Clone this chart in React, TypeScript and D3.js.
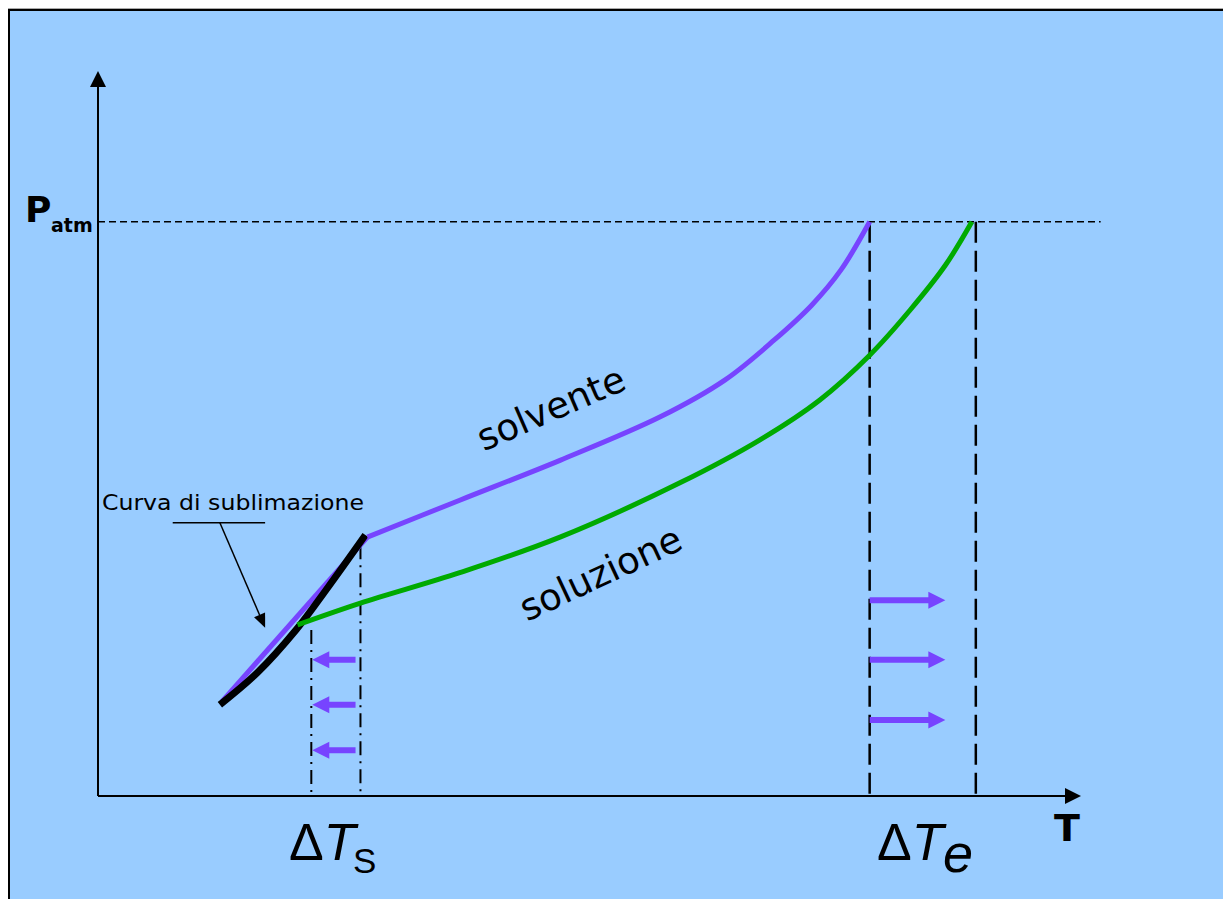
import React from "react";
import * as d3 from "d3";

// Diagramma di fase: tensione di vapore di solvente e soluzione (T, P)
const solventSolid: [number, number][] = [
  [12.6, 13.0],
  [27.4, 35.7],
];
const solventLiquid: [number, number][] = [
  [27.4, 35.7],
  [36.8, 40.8],
  [47.0, 46.3],
  [57.2, 52.3],
  [63.8, 57.4],
  [68.8, 62.9],
  [72.6, 67.7],
  [75.6, 72.6],
  [78.5, 79.2],
];
const solution: [number, number][] = [
  [20.3, 23.6],
  [26.7, 26.6],
  [36.8, 30.8],
  [47.0, 35.7],
  [59.2, 43.2],
  [67.3, 49.1],
  [73.4, 54.6],
  [78.5, 60.8],
  [82.6, 67.0],
  [86.2, 73.2],
  [88.9, 79.2],
];
const sublimation: [number, number][] = [
  [12.4, 12.6],
  [16.2, 17.0],
  [20.2, 23.0],
  [23.4, 28.8],
  [27.2, 36.0],
];

const P_ATM = 79.2;
const freezeSolution = 21.7;
const freezeSolvent = 26.7;
const freezeSolutionTopP = 22.9;
const freezeSolventTopP = 34.6;
const boilSolvent = 78.5;
const boilSolution = 89.3;
const leftArrowP = [18.8, 12.6, 6.3];
const rightArrowP = [27.0, 18.8, 10.5];

const W = 1223;
const H = 899;
const x = d3.scaleLinear().domain([0, 100]).range([98, 1081]);
const y = d3.scaleLinear().domain([0, 100]).range([796, 71]);

const smooth = d3
  .line<[number, number]>()
  .x((d) => x(d[0]))
  .y((d) => y(d[1]))
  .curve(d3.curveCatmullRom.alpha(0.5));
const straight = d3
  .line<[number, number]>()
  .x((d) => x(d[0]))
  .y((d) => y(d[1]));

const PURPLE = "#7744FF";
const GREEN = "#00AA00";
const BG = "#99CCFF";
const COMIC = "'Comic Sans MS', 'DejaVu Sans', sans-serif";
const ARIAL = "'Liberation Sans', Arial, sans-serif";

// block arrow: shaft 6px thick, head 17px long and 17px wide
function blockArrow(x0: number, x1: number, yc: number) {
  const dir = Math.sign(x1 - x0);
  const hb = x1 - dir * 17;
  return [
    [x0, yc - 3],
    [hb, yc - 3],
    [hb, yc - 8.5],
    [x1, yc],
    [hb, yc + 8.5],
    [hb, yc + 3],
    [x0, yc + 3],
  ]
    .map((p) => p.join(","))
    .join(" ");
}

export default function App() {
  const annTop = y(37.7);
  const annStart = x(12.4);
  const annTipX = x(17.0);
  const annTipY = y(23.2);
  const ang = Math.atan2(annTipY - annTop, annTipX - annStart);
  const hl = 14;
  const hw = 6;
  const bx = annTipX - hl * Math.cos(ang);
  const by = annTipY - hl * Math.sin(ang);
  const head = [
    [annTipX, annTipY],
    [bx + hw * Math.sin(ang), by - hw * Math.cos(ang)],
    [bx - hw * Math.sin(ang), by + hw * Math.cos(ang)],
  ]
    .map((p) => p.join(","))
    .join(" ");

  return (
    <svg
      width={W}
      height={H}
      style={{ position: "absolute", left: 0, top: 0, display: "block" }}
    >
      <rect x={0} y={0} width={W} height={H} fill="#ffffff" />
      <rect x={8} y={8} width={W - 8} height={H - 8} fill={BG} />
      <line x1={8} y1={8.5} x2={W} y2={8.5} stroke="#aaaaaa" strokeWidth={1} />
      <line x1={8} y1={10} x2={W} y2={10} stroke="#000" strokeWidth={2} />
      <line x1={9} y1={9} x2={9} y2={H} stroke="#000" strokeWidth={2} />

      {/* axes */}
      <line x1={x(0)} y1={y(0)} x2={x(0)} y2={y(98)} stroke="#000" strokeWidth={2} />
      <polygon
        points={`${x(0)},${y(100)} ${x(0) - 8},${y(100) + 16} ${x(0) + 8},${y(100) + 16}`}
        fill="#000"
      />
      <line x1={x(0)} y1={y(0)} x2={x(98.5)} y2={y(0)} stroke="#000" strokeWidth={2} />
      <polygon
        points={`${x(100)},${y(0)} ${x(100) - 16},${y(0) - 8} ${x(100) - 16},${y(0) + 8}`}
        fill="#000"
      />

      {/* P atm reference */}
      <line
        x1={x(0)}
        y1={y(P_ATM)}
        x2={x(102)}
        y2={y(P_ATM)}
        stroke="#000"
        strokeWidth={1.5}
        strokeDasharray="7,4"
      />
      <text x={25} y={222} fontFamily={COMIC} fontWeight="bold" fontSize={36} fill="#000">
        P
      </text>
      <text x={51} y={232} fontFamily={COMIC} fontWeight="bold" fontSize={19} fill="#000">
        atm
      </text>

      {/* boiling lines */}
      {[boilSolvent, boilSolution].map((t) => (
        <line
          key={"b" + t}
          x1={x(t)}
          y1={y(P_ATM)}
          x2={x(t)}
          y2={y(0)}
          stroke="#000"
          strokeWidth={2.5}
          strokeDasharray="21,8"
        />
      ))}

      {/* freezing lines */}
      {[
        [freezeSolution, freezeSolutionTopP],
        [freezeSolvent, freezeSolventTopP],
      ].map(([t, p]) => (
        <line
          key={"f" + t}
          x1={x(t)}
          y1={y(p)}
          x2={x(t)}
          y2={y(0)}
          stroke="#000"
          strokeWidth={2}
          strokeDasharray="14,6,2,6"
        />
      ))}

      {/* curves */}
      <path d={straight(solventSolid) || ""} fill="none" stroke={PURPLE} strokeWidth={5} />
      <path d={smooth(sublimation) || ""} fill="none" stroke="#000" strokeWidth={7} />
      <path d={smooth(solventLiquid) || ""} fill="none" stroke={PURPLE} strokeWidth={5} />
      <path d={smooth(solution) || ""} fill="none" stroke={GREEN} strokeWidth={5} />

      {/* shift arrows */}
      {leftArrowP.map((p) => (
        <polygon
          key={"l" + p}
          points={blockArrow(x(26.2), x(21.8), y(p))}
          fill={PURPLE}
        />
      ))}
      {rightArrowP.map((p) => (
        <polygon
          key={"r" + p}
          points={blockArrow(x(boilSolvent), x(86.2), y(p))}
          fill={PURPLE}
        />
      ))}

      {/* sublimation annotation */}
      <text
        x={x(0.4)}
        y={y(39.4)}
        fontFamily={COMIC}
        fontSize={21}
        fill="#000"
        textLength={262}
        lengthAdjust="spacingAndGlyphs"
      >
        Curva di sublimazione
      </text>
      <line x1={x(7.6)} y1={annTop} x2={x(17.0)} y2={annTop} stroke="#000" strokeWidth={1.5} />
      <line x1={annStart} y1={annTop} x2={bx} y2={by} stroke="#000" strokeWidth={1.5} />
      <polygon points={head} fill="#000" />

      {/* curve labels */}
      <text
        transform="translate(556,420) rotate(-23.5)"
        textAnchor="middle"
        fontFamily={COMIC}
        fontSize={37}
        fill="#000"
      >
        solvente
      </text>
      <text
        transform="translate(606,585) rotate(-25)"
        textAnchor="middle"
        fontFamily={COMIC}
        fontSize={37}
        fill="#000"
      >
        soluzione
      </text>

      {/* axis label and deltas */}
      <text x={1054} y={841} fontFamily={COMIC} fontWeight="bold" fontSize={38} fill="#000">
        T
      </text>
      <text x={289} y={860} fontFamily={ARIAL} fontSize={52} fill="#000">
        Δ
        <tspan fontStyle="italic">T</tspan>
      </text>
      <text x={353} y={873} fontFamily={ARIAL} fontSize={35} fill="#000">
        S
      </text>
      <text x={877} y={860} fontFamily={ARIAL} fontSize={52} fill="#000">
        Δ
        <tspan fontStyle="italic">T</tspan>
      </text>
      <text x={943} y={872} fontFamily={ARIAL} fontStyle="italic" fontSize={54} fill="#000">
        e
      </text>
    </svg>
  );
}
